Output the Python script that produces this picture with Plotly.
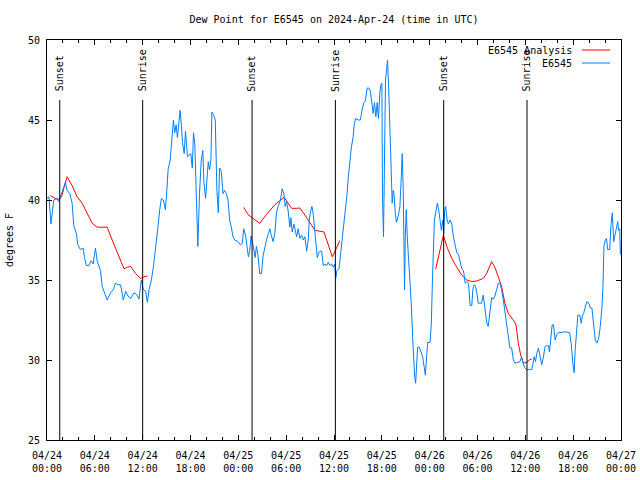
import plotly.graph_objects as go

# ---------------- data ----------------
title_text = "Dew Point for E6545 on 2024-Apr-24 (time in UTC)"
y_title = "degrees F"

# hours since 2024-04-24 00:00 UTC
blue_hours = [
    0.00, 0.25, 0.50, 0.84, 1.26, 1.47, 1.76, 2.30, 2.52, 2.86, 3.15, 3.36, 3.69, 3.86, 4.19, 4.53,
    4.70, 4.95, 5.25, 5.54, 5.79, 6.08, 6.29, 6.51, 6.71, 6.92, 7.14, 7.55, 7.97, 8.31, 8.60, 8.90,
    9.23, 9.57, 9.86, 10.16, 10.49, 10.91, 11.24, 11.54, 11.83, 12.08, 12.37, 12.59, 12.80, 13.09,
    13.34, 13.63, 13.85, 14.14, 14.35, 14.60, 14.85, 15.02, 15.19, 15.45, 15.61, 15.86, 16.02, 16.20,
    16.36, 16.58, 16.70, 16.87, 16.99, 17.21, 17.37, 17.62, 17.84, 18.04, 18.22, 18.38, 18.54, 18.79,
    18.92, 19.13, 19.35, 19.55, 19.68, 19.89, 20.05, 20.23, 20.39, 20.56, 20.68, 20.90, 21.11, 21.31,
    21.49, 21.65, 21.87, 22.07, 22.28, 22.50, 22.70, 22.91, 23.12, 23.33, 23.54, 23.96, 24.26, 24.51,
    24.67, 24.92, 25.09, 25.26, 25.43, 25.59, 25.77, 25.93, 26.10, 26.27, 26.47, 26.69, 26.90, 27.10,
    27.32, 27.53, 27.78, 27.95, 28.13, 28.36, 28.57, 28.79, 28.99, 29.29, 29.49, 29.71, 29.87, 30.05,
    30.25, 30.46, 30.59, 30.75, 30.97, 31.13, 31.31, 31.51, 31.72, 31.94, 32.14, 32.35, 32.57, 32.77,
    32.89, 33.07, 33.23, 33.40, 33.61, 33.74, 33.90, 34.08, 34.24, 34.45, 34.66, 34.87, 35.08, 35.28,
    35.50, 35.71, 35.91, 36.09, 36.22, 36.38, 36.63, 36.79, 37.05, 37.26, 37.47, 37.64, 37.80, 37.98,
    38.18, 38.39, 38.56, 38.73, 39.02, 39.31, 39.56, 39.78, 39.94, 40.16, 40.37, 40.57, 40.75, 40.91,
    41.08, 41.25, 41.42, 41.58, 41.75, 41.88, 42.01, 42.08, 42.21, 42.33, 42.46, 42.59, 42.71, 42.84,
    43.01, 43.18, 43.30, 43.43, 43.55, 43.68, 43.84, 44.06, 44.27, 44.44, 44.56, 44.69, 44.78, 44.85,
    44.94, 45.07, 45.19, 45.35, 45.53, 45.69, 45.86, 45.98, 46.11, 46.24, 46.36, 46.49, 46.70, 46.92,
    47.12, 47.30, 47.46, 47.62, 47.75, 48.05, 48.21, 48.34, 48.46, 48.59, 48.75, 48.97, 49.13, 49.31,
    49.47, 49.63, 49.76, 49.89, 50.01, 50.19, 50.35, 50.57, 50.77, 50.98, 51.19, 51.40, 51.61, 51.83,
    52.03, 52.24, 52.45, 52.66, 52.87, 53.08, 53.29, 53.41, 53.59, 53.75, 53.92, 54.09, 54.51, 54.72,
    54.88, 55.05, 55.17, 55.35, 55.55, 55.77, 55.98, 56.18, 56.40, 56.61, 56.81, 57.02, 57.24, 57.44,
    57.65, 57.87, 58.07, 58.28, 58.50, 58.70, 58.91, 59.12, 59.33, 59.54, 59.76, 59.96, 60.17, 60.51,
    60.80, 60.93, 61.09, 61.27, 61.43, 61.64, 61.85, 62.06, 62.27, 62.48, 62.69, 62.90, 63.03, 63.19,
    63.36, 63.53, 63.74, 63.95, 64.16, 64.79, 65.21, 65.55, 65.75, 65.96, 66.12, 66.25, 66.47, 66.59,
    66.84, 67.01, 67.18, 67.31, 67.51, 67.72, 67.98, 68.14, 68.35, 68.57, 68.77, 68.98, 69.20, 69.40,
    69.61, 69.74, 69.86, 70.03, 70.18, 70.33, 70.58, 70.74, 70.91, 71.08, 71.25, 71.41, 71.59, 71.71,
    71.84, 71.92,
]
blue_values = [
    40.1, 40.2, 38.5, 40.0, 40.1, 39.9, 40.3, 41.1, 40.6, 40.4, 39.8, 38.4, 37.9, 37.2, 36.9, 37.0,
    36.4, 35.9, 35.9, 36.2, 36.0, 37.0, 36.2, 35.9, 35.6, 34.6, 34.3, 33.75, 34.2, 34.4, 34.8, 34.7,
    34.7, 33.75, 34.3, 34.0, 33.85, 34.2, 34.1, 33.8, 35.0, 34.4, 34.3, 33.6, 34.4, 35.0,
    35.8, 37.3, 38.0, 39.4, 40.1, 40.0, 39.4, 40.5, 41.9, 42.5, 43.4, 45.0, 44.2, 44.7,
    43.9, 45.3, 45.6, 44.6, 43.6, 42.9, 44.3, 42.7, 42.8, 42.9, 42.0, 44.2, 43.5, 38.75,
    37.1, 40.4, 42.5, 43.1, 41.1, 40.1, 41.25, 42.4, 41.9, 42.5, 45.5, 45.3, 45.0, 40.6,
    39.2, 42.0, 41.8, 40.4, 40.6, 40.4, 40.0, 38.75, 38.3, 37.7, 37.5, 37.4, 37.2, 37.3,
    38.2, 37.75, 37.1, 36.45, 36.8, 37.75, 37.4, 36.8, 36.4, 37.1, 36.5, 35.4, 35.4, 36.5,
    37.1, 37.5, 37.9, 38.2, 37.8, 37.4, 37.9, 39.2, 39.6, 40.0, 40.7, 40.4, 39.6, 39.9,
    39.3, 38.3, 38.9, 38.0, 38.5, 38.0, 37.7, 38.2, 37.6, 37.8, 37.5, 37.7, 36.8, 37.5,
    38.75, 39.3, 39.6, 39.1, 37.9, 36.8, 36.4, 36.7, 36.8, 36.8, 35.9, 36.0, 35.9, 36.1,
    35.9, 36.0, 35.8, 36.0, 35.1, 35.6, 35.7, 36.45, 37.7, 38.6, 39.4, 40.4, 41.45, 42.5,
    43.3, 43.9, 44.8, 45.1, 45.0, 45.0, 45.75, 46.1, 46.2, 47.0, 47.0, 46.8, 46.2, 45.4,
    46.1, 45.2, 46.1, 45.1, 46.7, 47.2, 47.3, 40.2, 37.7, 45.0, 47.5, 48.1, 48.75, 47.3,
    44.0, 41.1, 39.8, 40.6, 40.25, 39.2, 38.6, 39.0, 39.6, 41.45, 42.9, 40.6, 36.9, 34.4,
    37.7, 39.4, 37.7, 36.45, 34.8, 33.55, 31.45, 30.0, 29.0, 28.55, 30.2, 30.8, 30.8, 30.5,
    30.2, 29.6, 29.05, 30.2, 31.1, 31.1, 32.3, 34.8, 36.9, 38.75, 39.2, 39.8, 39.4, 38.75,
    38.1, 38.75, 37.9, 39.4, 39.6, 38.75, 38.5, 38.75, 38.5, 37.7, 37.1, 36.7, 36.6, 36.1,
    35.7, 35.6, 34.8, 34.9, 34.8, 33.4, 33.4, 34.4, 34.7, 34.6, 34.2, 33.55, 33.55, 34.06,
    33.3, 32.9, 32.3, 32.1, 33.1, 33.9, 33.8, 34.0, 34.4, 34.8, 34.8, 34.4, 33.75, 33.1,
    32.3, 31.45, 30.75, 30.75, 30.0, 29.8, 29.85, 29.9, 29.9, 30.2, 29.7, 29.5, 29.4, 29.4,
    29.4, 29.7, 30.2, 29.9, 30.4, 30.75, 30.2, 29.7, 30.2, 30.85, 30.9, 30.9, 30.5, 31.25,
    32.2, 32.2, 31.25, 31.6, 31.7, 31.75, 31.75, 31.7, 31.05, 29.8, 29.2, 30.6, 32.3, 32.8,
    32.8, 32.3, 32.8, 32.9, 33.3, 33.65, 33.55, 33.25, 33.25, 32.1, 31.25, 31.05, 31.35, 32.1,
    33.3, 34.6, 37.1, 37.5, 37.6, 36.9, 36.9, 38.4, 39.2, 37.4, 37.8, 38.4, 38.65, 38.1,
    38.2, 36.6,
]

# analysis series: three separate segments (None = gap)
red_hours = [
    0.42, 1.26, 1.60, 1.89, 2.10, 2.52, 3.15, 3.78, 4.41, 5.04, 5.66, 6.29, 6.92, 7.55, 8.18, 8.81,
    9.15, 9.66, 10.07, 10.49, 11.12, 11.74, 12.17, 12.59,
    None,
    24.67, 25.21, 25.84, 26.69, 27.53, 28.57, 29.75, 30.25, 30.68, 31.31, 31.72, 32.35, 32.98, 33.61,
    34.24, 34.74, 35.08, 35.50, 35.79, 36.13, 36.72,
    None,
    48.75, 49.31, 49.72, 50.14, 50.77, 51.40, 52.03, 52.66, 53.29, 53.92, 54.72, 55.14, 55.77, 56.18,
    56.61, 57.02, 57.44, 57.87, 58.50, 58.83, 59.12, 59.42, 59.76, 60.17, 60.51, 60.80,
]
red_values = [
    40.27, 40.05, 40.05, 40.3, 40.7, 41.45, 40.9, 40.2, 39.8, 39.2, 38.55, 38.3, 38.3, 38.3, 37.5, 36.7,
    36.25, 35.7, 35.8, 35.85, 35.4, 35.1, 35.2, 35.25,
    None,
    39.54, 39.1, 38.85, 38.54, 39.1, 39.7, 40.17, 39.8, 39.48, 39.48, 39.5, 39.06, 38.54, 38.1,
    38.05, 38.0, 37.5, 36.9, 36.45, 36.8, 37.46,
    None,
    35.67, 36.9, 37.8, 37.1, 36.35, 35.8, 35.3, 35.0, 34.9, 34.94, 35.1, 35.4, 36.15, 35.8,
    35.2, 34.6, 33.54, 32.9, 32.5, 32.2, 31.04, 30.3, 29.8, 29.85, 30.0, 30.06,
]

sun_hours = [1.60, 12.00, 25.72, 36.17, 49.76, 60.21]
sun_labels = ["Sunset", "Sunrise", "Sunset", "Sunrise", "Sunset", "Sunrise"]
sun_line_top = 46.25

tick_hours = [0, 6, 12, 18, 24, 30, 36, 42, 48, 54, 60, 66, 72]
tick_labels = [
    "04/24<br>00:00", "04/24<br>06:00", "04/24<br>12:00", "04/24<br>18:00",
    "04/25<br>00:00", "04/25<br>06:00", "04/25<br>12:00", "04/25<br>18:00",
    "04/26<br>00:00", "04/26<br>06:00", "04/26<br>12:00", "04/26<br>18:00",
    "04/27<br>00:00",
]
y_ticks = [25, 30, 35, 40, 45, 50]

series_names = ["E6545 Analysis", "E6545"]
series_colors = ["#ff0000", "#0080ff"]

# ---------------- figure ----------------
FONT = "DejaVu Sans Mono"
fig = go.Figure()
fig.add_trace(go.Scatter(x=red_hours, y=red_values, mode="lines", name=series_names[0],
                         line=dict(color=series_colors[0], width=1), connectgaps=False,
                         showlegend=False))
fig.add_trace(go.Scatter(x=blue_hours, y=blue_values, mode="lines", name=series_names[1],
                         line=dict(color=series_colors[1], width=1), showlegend=False))

shapes = []
annotations = []
for h, lab in zip(sun_hours, sun_labels):
    shapes.append(dict(type="line", xref="x", yref="y", x0=h, x1=h, y0=25, y1=sun_line_top,
                       line=dict(color="black", width=1)))
    annotations.append(dict(x=h, y=sun_line_top + 0.4, xref="x", yref="y", text=lab,
                            textangle=-90, showarrow=False, xanchor="center", yanchor="bottom",
                            font=dict(family=FONT, size=10, color="black")))

# manual legend (text right, line sample to the right of it)
leg_y = [0.975, 0.9425]
for name, col, ly in zip(series_names, series_colors, leg_y):
    annotations.append(dict(x=0.9185, y=ly, xref="paper", yref="paper", text=name,
                            showarrow=False, xanchor="right", yanchor="middle",
                            font=dict(family=FONT, size=10, color="black")))
    shapes.append(dict(type="line", xref="paper", yref="paper", x0=0.932, x1=0.981,
                       y0=ly, y1=ly, line=dict(color=col, width=1)))

fig.update_layout(
    width=640, height=480,
    margin=dict(l=47, r=19, t=40, b=40, autoexpand=False),
    paper_bgcolor="white", plot_bgcolor="white",
    font=dict(family=FONT, size=10, color="black"),
    title=dict(text=title_text, x=0.5, xref="paper", xanchor="center",
               y=1 - 19 / 480, yref="container", yanchor="middle",
               font=dict(family=FONT, size=10, color="black")),
    shapes=shapes, annotations=annotations,
    showlegend=False,
)
fig.update_xaxes(range=[0, 72], tickmode="array", tickvals=tick_hours, ticktext=tick_labels,
                 ticks="inside", ticklen=5, tickcolor="black", showline=True, linecolor="black",
                 linewidth=1, mirror="ticks", showgrid=False, zeroline=False, automargin=False,
                 ticklabelstandoff=6,
                 minor=dict(dtick=2, ticks="inside", ticklen=3, tickcolor="black", showgrid=False),
                 tickfont=dict(family=FONT, size=10))
fig.update_yaxes(range=[25, 50], tickmode="array", tickvals=y_ticks,
                 ticks="inside", ticklen=5, tickcolor="black", showline=True, linecolor="black",
                 linewidth=1, mirror="ticks", showgrid=False, zeroline=False, automargin=False,
                 ticklabelstandoff=4,
                 title=dict(text=y_title, font=dict(family=FONT, size=10), standoff=12),
                 tickfont=dict(family=FONT, size=10))

fig.write_html("out.html", config={"displayModeBar": False},
               post_script="document.body.style.margin='0px';")
